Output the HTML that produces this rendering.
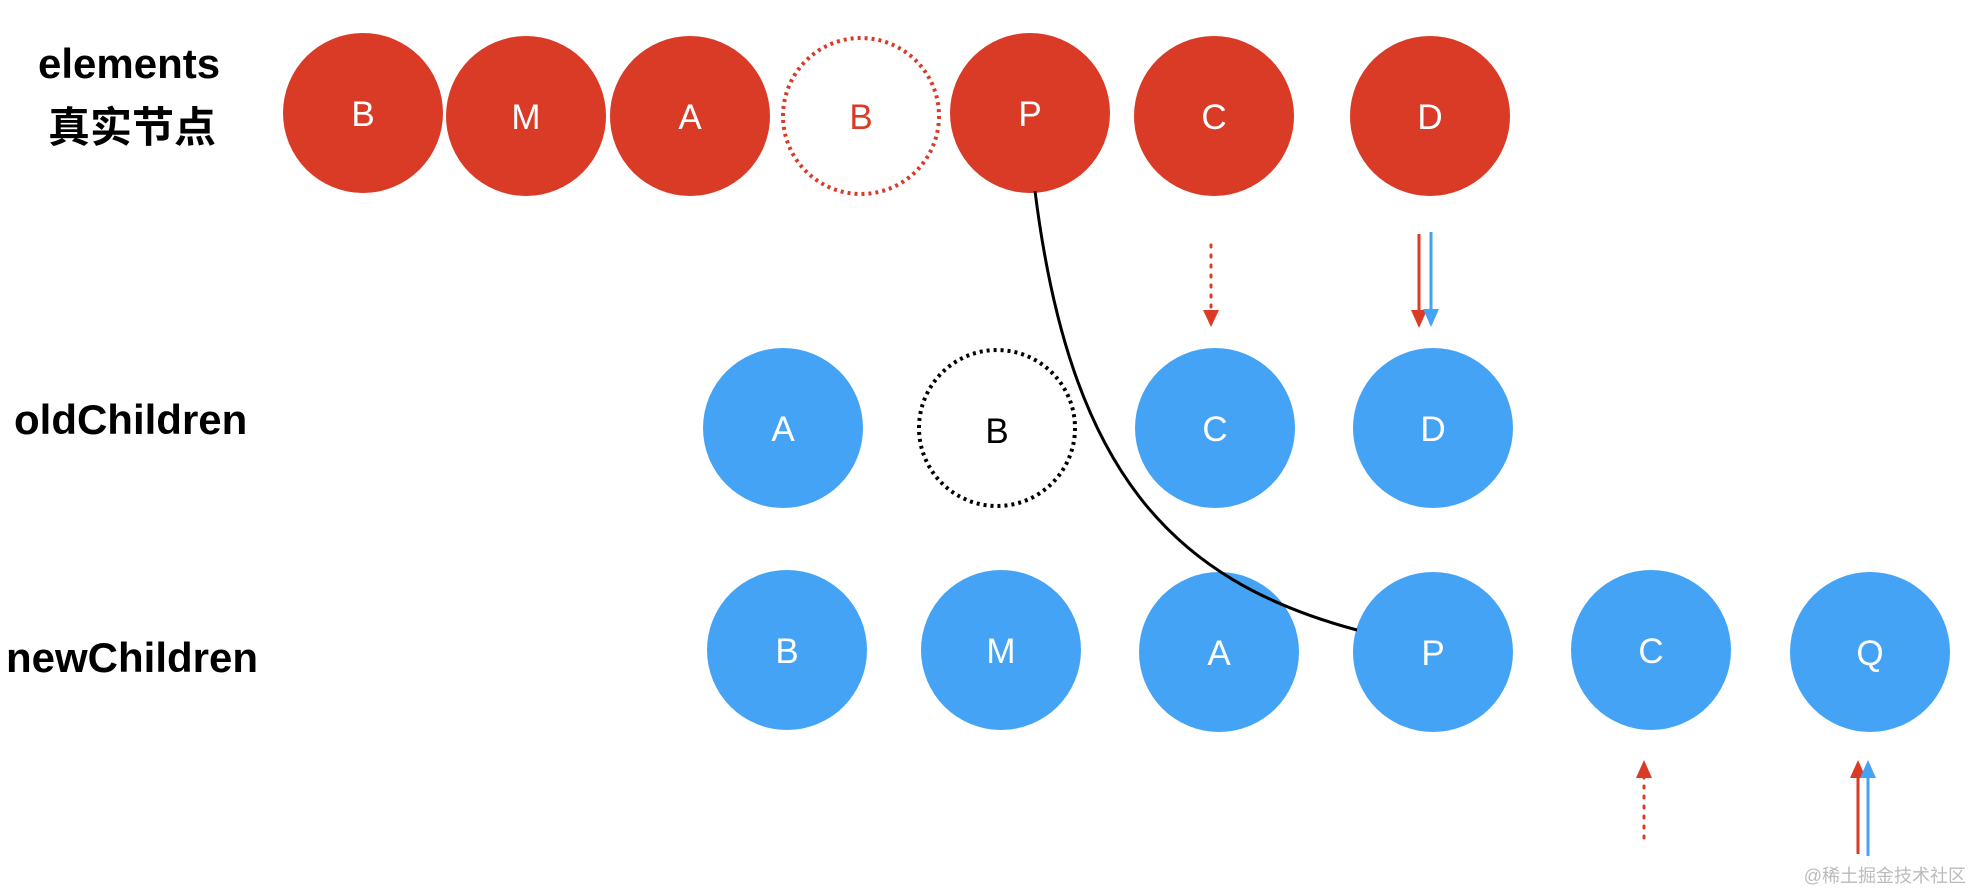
<!DOCTYPE html>
<html><head><meta charset="utf-8"><style>
html,body{margin:0;padding:0;background:#fff;}
svg{display:block;}
text{font-family:"Liberation Sans","Noto Sans CJK SC",sans-serif;}
</style></head><body>
<svg width="1974" height="894" viewBox="0 0 1974 894" xmlns="http://www.w3.org/2000/svg">
<defs>
<marker id="ar" markerWidth="10" markerHeight="10" refX="5" refY="9" orient="auto-start-reverse" markerUnits="userSpaceOnUse" viewBox="0 0 10 10"><path d="M0,0 L10,0 L5,10 z" fill="#d93b27"/></marker>
</defs>
<g font-weight="bold" fill="#000">
<text x="38" y="78" font-size="42">elements</text>
<text x="48" y="142" font-size="42">真实节点</text>
<text x="14" y="434" font-size="42">oldChildren</text>
<text x="6" y="672" font-size="42">newChildren</text>
</g>
<g fill="#d93b27">
<circle cx="363" cy="113" r="80"/><circle cx="526" cy="116" r="80"/><circle cx="690" cy="116" r="80"/>
<circle cx="1030" cy="113" r="80"/><circle cx="1214" cy="116" r="80"/><circle cx="1430" cy="116" r="80"/>
</g>
<circle cx="861" cy="116" r="78" fill="none" stroke="#d93b27" stroke-width="4" stroke-dasharray="3,4"/>
<g fill="#45a3f5">
<circle cx="783" cy="428" r="80"/><circle cx="1215" cy="428" r="80"/><circle cx="1433" cy="428" r="80"/>
<circle cx="787" cy="650" r="80"/><circle cx="1001" cy="650" r="80"/><circle cx="1219" cy="652" r="80"/>
<circle cx="1433" cy="652" r="80"/><circle cx="1651" cy="650" r="80"/><circle cx="1870" cy="652" r="80"/>
</g>
<circle cx="997" cy="428" r="78" fill="none" stroke="#000" stroke-width="4" stroke-dasharray="3,4"/>
<path d="M1035,191 C1070,470 1170,580 1357,630" fill="none" stroke="#000" stroke-width="3"/>
<g font-size="35" text-anchor="middle" fill="#fff">
<text x="363" y="126">B</text><text x="526" y="129">M</text><text x="690" y="129">A</text>
<text x="861" y="129" fill="#d93b27">B</text>
<text x="1030" y="126">P</text><text x="1214" y="129">C</text><text x="1430" y="129">D</text>
<text x="783" y="441">A</text><text x="997" y="443" fill="#000">B</text><text x="1215" y="441">C</text><text x="1433" y="441">D</text>
<text x="787" y="663">B</text><text x="1001" y="663">M</text><text x="1219" y="665">A</text>
<text x="1433" y="665">P</text><text x="1651" y="663">C</text><text x="1870" y="665">Q</text>
</g>
<!-- arrows -->
<line x1="1211" y1="245" x2="1211" y2="312" stroke="#d93b27" stroke-width="3" stroke-dasharray="2,8" stroke-linecap="round"/>
<path d="M1203,310 L1219,310 L1211,327 z" fill="#d93b27"/>
<line x1="1419" y1="234" x2="1419" y2="312" stroke="#d93b27" stroke-width="3"/>
<path d="M1411,310 L1427,310 L1419,328 z" fill="#d93b27"/>
<line x1="1431" y1="232" x2="1431" y2="312" stroke="#45a3f5" stroke-width="3"/>
<path d="M1423,309 L1439,309 L1431,327 z" fill="#45a3f5"/>
<line x1="1644" y1="776" x2="1644" y2="846" stroke="#d93b27" stroke-width="3" stroke-dasharray="2,8" stroke-linecap="round"/>
<path d="M1636,778 L1652,778 L1644,760 z" fill="#d93b27"/>
<line x1="1858" y1="776" x2="1858" y2="854" stroke="#d93b27" stroke-width="3"/>
<path d="M1850,778 L1866,778 L1858,760 z" fill="#d93b27"/>
<line x1="1868" y1="776" x2="1868" y2="856" stroke="#45a3f5" stroke-width="3"/>
<path d="M1860,778 L1876,778 L1868,760 z" fill="#45a3f5"/>
<text x="1966" y="882" font-size="18" text-anchor="end" fill="#bbb">@稀土掘金技术社区</text>
</svg>
</body></html>
